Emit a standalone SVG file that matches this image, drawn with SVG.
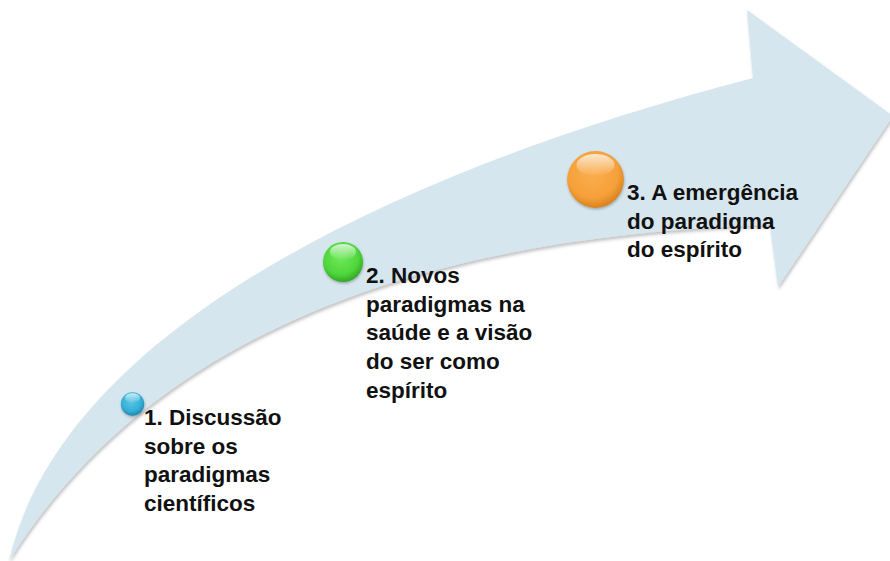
<svg xmlns="http://www.w3.org/2000/svg" width="890" height="561" viewBox="0 0 890 561">
  <defs>
    <style>
      .lbl { font-family: "Liberation Sans", Arial, sans-serif; font-weight: bold; font-size: 22.5px; fill: #111111; }
      .band { fill: #d6e6ee; }
      .gloss { fill: url(#gloss); }
    </style>
    <filter id="shadow" x="-5%" y="-5%" width="110%" height="115%">
      <feDropShadow dx="1" dy="2.5" stdDeviation="1.6" flood-color="#555555" flood-opacity="0.35"/>
    </filter>
    <filter id="ballShadow" x="-30%" y="-30%" width="160%" height="160%">
      <feDropShadow dx="0.5" dy="1.5" stdDeviation="1" flood-color="#333333" flood-opacity="0.35"/>
    </filter>
    <radialGradient id="gBlue" cx="45%" cy="38%" r="62%">
      <stop offset="0" stop-color="#5cc6e6"/>
      <stop offset="0.7" stop-color="#34aed6"/>
      <stop offset="1" stop-color="#1f87ae"/>
    </radialGradient>
    <radialGradient id="gGreen" cx="45%" cy="38%" r="62%">
      <stop offset="0" stop-color="#6fe95a"/>
      <stop offset="0.7" stop-color="#4fd63c"/>
      <stop offset="1" stop-color="#34a826"/>
    </radialGradient>
    <radialGradient id="gOrange" cx="45%" cy="38%" r="62%">
      <stop offset="0" stop-color="#fbae4e"/>
      <stop offset="0.72" stop-color="#f5a03a"/>
      <stop offset="1" stop-color="#d9821e"/>
    </radialGradient>
    <linearGradient id="gloss" x1="0" y1="0" x2="0" y2="1">
      <stop offset="0" stop-color="#ffffff" stop-opacity="0.75"/>
      <stop offset="1" stop-color="#ffffff" stop-opacity="0"/>
    </linearGradient>
  </defs>

  <rect x="0" y="0" width="890" height="561" fill="#ffffff"/>

  <g id="timeline-arrow">
    <path class="band" filter="url(#shadow)"
          d="M 9,561 C 65,320 420,165 753,78 L 747,10 L 893,116 L 778,287 L 770,225 C 450,235 160,320 9,561 Z"/>
  </g>

  <g id="node-1">
    <circle cx="132.5" cy="404" r="11.7" fill="url(#gBlue)" filter="url(#ballShadow)"/>
    <ellipse class="gloss" cx="132.5" cy="398" rx="7.5" ry="4.8"/>
    <text class="lbl" x="144" y="425">1. Discussão</text>
    <text class="lbl" x="144" y="453.7">sobre os</text>
    <text class="lbl" x="144" y="482.4">paradigmas</text>
    <text class="lbl" x="144" y="511">científicos</text>
  </g>

  <g id="node-2">
    <circle cx="343" cy="262" r="20" fill="url(#gGreen)" filter="url(#ballShadow)"/>
    <ellipse class="gloss" cx="343" cy="252" rx="13" ry="8"/>
    <text class="lbl" x="366" y="283">2. Novos</text>
    <text class="lbl" x="366" y="311.7">paradigmas na</text>
    <text class="lbl" x="366" y="340.4">saúde e a visão</text>
    <text class="lbl" x="366" y="369.1">do ser como</text>
    <text class="lbl" x="366" y="397.8">espírito</text>
  </g>

  <g id="node-3">
    <circle cx="595.5" cy="179.5" r="28.4" fill="url(#gOrange)" filter="url(#ballShadow)"/>
    <ellipse class="gloss" cx="595.5" cy="165" rx="19" ry="11"/>
    <text class="lbl" x="627" y="200">3. A emergência</text>
    <text class="lbl" x="627" y="228.7">do paradigma</text>
    <text class="lbl" x="627" y="257.4">do espírito</text>
  </g>
</svg>
